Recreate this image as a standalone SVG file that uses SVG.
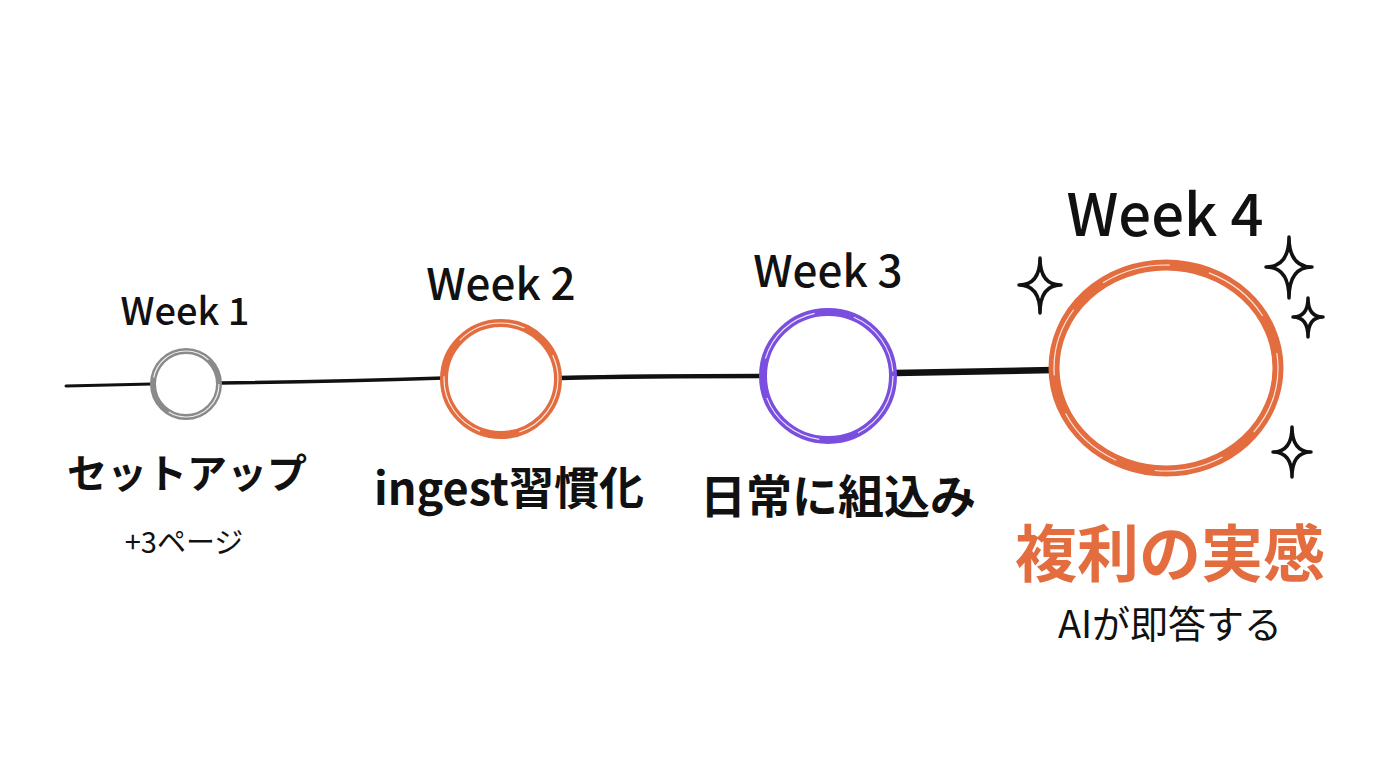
<svg xmlns="http://www.w3.org/2000/svg" width="1376" height="768" viewBox="0 0 1376 768">
<style>
text{font-family:"Noto Sans CJK JP","Noto Sans",sans-serif;text-anchor:middle;fill:#111}
.wk{font-weight:500}
.lbl{font-weight:700}
.sub{font-weight:400}
.ring{fill:#fff}
.hl{fill:none;stroke:#fff;stroke-width:1.2;stroke-dasharray:70 40;opacity:0.85}
.spark{fill:none;stroke:#111;stroke-width:3.5;stroke-linejoin:round}
.line{fill:none;stroke:#111;stroke-linecap:round}
</style>
<rect width="1376" height="768" fill="#fff"/>
<g id="connectors">
<path class="line" stroke-width="3" d="M66 386 L152 384"/>
<path class="line" stroke-width="3.5" d="M220 383 C300 382 380 380 444 378"/>
<path class="line" stroke-width="4.5" d="M560 378 C640 376 700 376 762 376"/>
<path class="line" stroke-width="6.5" d="M895 373 C960 372 1010 371 1054 370"/>
</g>
<g id="week1">
<text class="wk" x="185" y="325" font-size="38">Week 1</text>
<circle class="ring" cx="186" cy="384" r="33" stroke="#8a8a8a" stroke-width="6"/>
<circle cx="186" cy="384" r="33" class="hl"/>
<text class="lbl" x="187" y="488" font-size="40">セットアップ</text>
<text class="sub" x="184" y="553" font-size="29">+3ページ</text>
</g>
<g id="week2">
<text class="wk" x="501" y="300" font-size="44">Week 2</text>
<ellipse class="ring" cx="501" cy="379" rx="57" ry="56" stroke="#E46D40" stroke-width="8"/>
<ellipse cx="501" cy="379" rx="57" ry="56" class="hl"/>
<text class="lbl" x="509" y="505" font-size="45">ingest習慣化</text>
</g>
<g id="week3">
<text class="wk" x="828" y="287" font-size="44">Week 3</text>
<ellipse class="ring" cx="828" cy="376" rx="65" ry="64" stroke="#7A4FDF" stroke-width="8"/>
<ellipse cx="828" cy="376" rx="65" ry="64" class="hl"/>
<text class="lbl" x="838" y="513" font-size="46">日常に組込み</text>
</g>
<g id="week4">
<text class="wk" x="1165" y="236" font-size="58">Week 4</text>
<ellipse class="ring" cx="1166" cy="368" rx="112" ry="103" stroke="#E46D40" stroke-width="11"/>
<ellipse cx="1166" cy="368" rx="112" ry="103" class="hl"/>
<path class="spark" d="M1040 258 Q1040 285 1061 285 Q1040 285 1040 313 Q1040 285 1019 285 Q1040 285 1040 258 Z"/>
<path class="spark" d="M1289 237 Q1289 267 1312 267 Q1289 267 1289 298 Q1289 267 1266 267 Q1289 267 1289 237 Z"/>
<path class="spark" d="M1308 298 Q1308 317 1323 317 Q1308 317 1308 337 Q1308 317 1293 317 Q1308 317 1308 298 Z"/>
<path class="spark" d="M1292 427 Q1292 452 1311 452 Q1292 452 1292 477 Q1292 452 1273 452 Q1292 452 1292 427 Z"/>
<text class="lbl" x="1170" y="577" font-size="62" style="fill:#E46D40">複利の実感</text>
<text class="sub" x="1170" y="638" font-size="38">AIが即答する</text>
</g>
</svg>
